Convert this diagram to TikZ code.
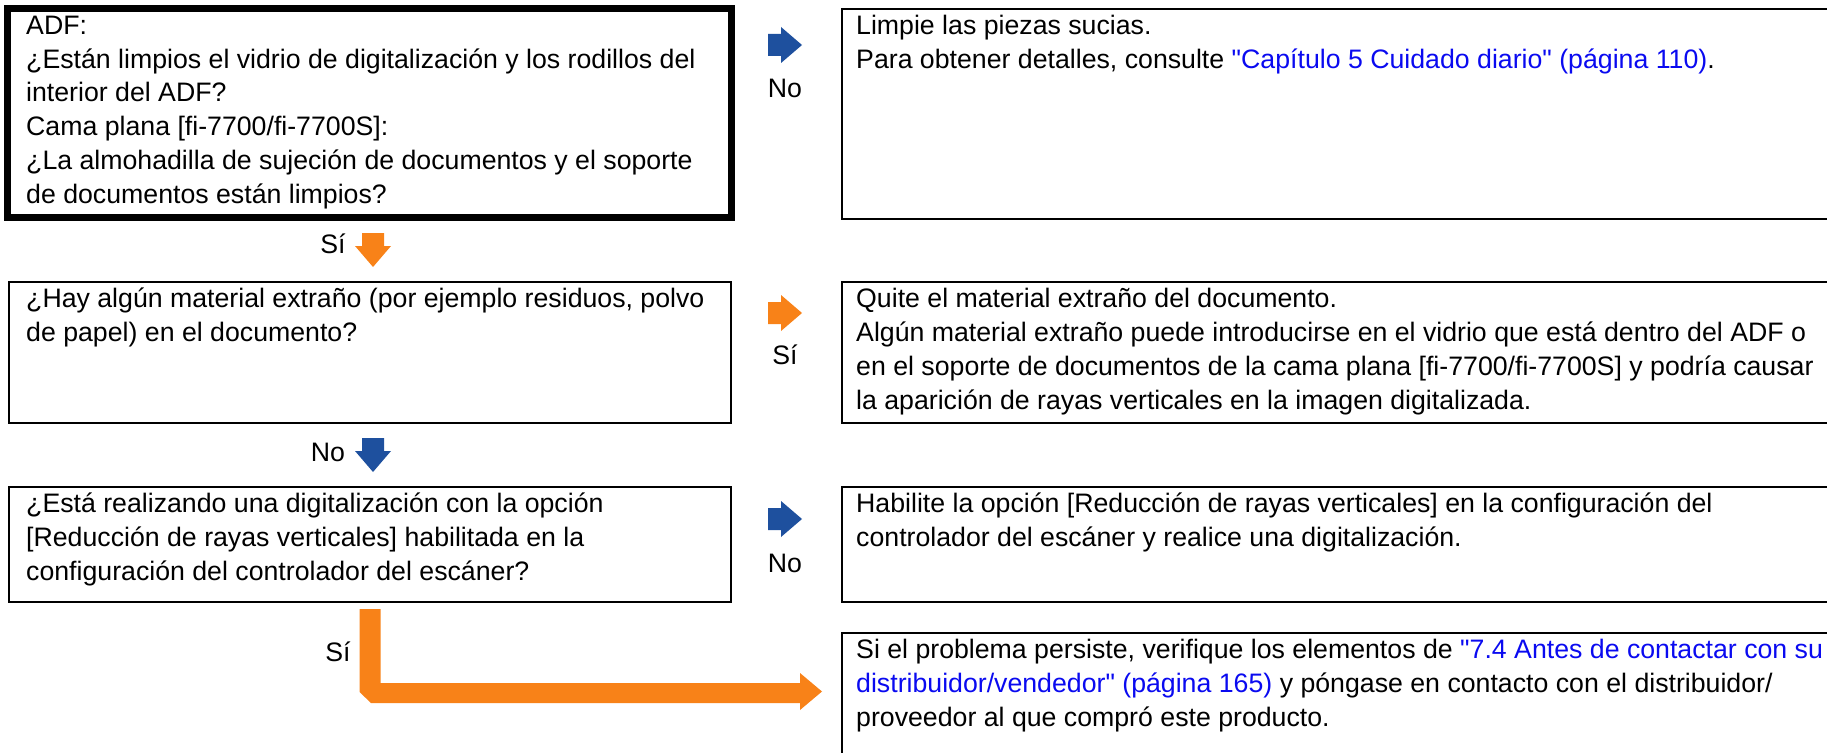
\documentclass[tikz,border=0pt]{standalone}
\usepackage{fontspec}
\setmainfont{Liberation Sans}[Ligatures=TeXOff]
\definecolor{arrblue}{RGB}{30,80,158}
\definecolor{arrorange}{RGB}{248,130,24}
\definecolor{linkblue}{RGB}{10,10,240}
\tikzset{
  qbox/.style={draw, line width=2.4pt, anchor=north west, inner sep=0pt, outer sep=0pt},
  txt/.style={anchor=north west, inner sep=0pt, align=left, font=\fontsize{26.7}{33.8}\selectfont},
  lbl/.style={inner sep=0pt, font=\fontsize{26.7}{33.8}\selectfont},
  rarrow/.pic={\fill (-34,-11) -- (-21,-11) -- (-21,-18) -- (0,0) -- (-21,18) -- (-21,11) -- (-34,11) -- cycle;},
  darrow/.pic={\fill (-11,-34) -- (-11,-21) -- (-18,-21) -- (0,0) -- (18,-21) -- (11,-21) -- (11,-34) -- cycle;}
}
\begin{document}
\begin{tikzpicture}[x=1pt,y=-1pt]
\useasboundingbox (0,0) rectangle (1827,752);
% boxes
\node[qbox, line width=7pt, minimum width=724pt, minimum height=209pt] (q1) at (7.5,8.5) {};
\node[qbox, minimum width=1000pt, minimum height=210pt] (a1) at (842,9) {};
\node[qbox, minimum width=722pt, minimum height=141pt] (q2) at (9,282) {};
\node[qbox, minimum width=1000pt, minimum height=141pt] (a2) at (842,282) {};
\node[qbox, minimum width=722pt, minimum height=115pt] (q3) at (9,487) {};
\node[qbox, minimum width=1000pt, minimum height=115pt] (a3) at (842,487) {};
\node[qbox, minimum width=1000pt, minimum height=200pt] (a4) at (842,633) {};
% texts
\node[txt] (t1) at ([shift={(18.5,2)}]q1.north west) {\strut ADF:\\
¿Están limpios el vidrio de digitalización y los rodillos del\\
interior del ADF?\\
Cama plana [fi-7700/fi-7700S]:\\
¿La almohadilla de sujeción de documentos y el soporte\\
de documentos están limpios?};
\node[txt] (s1) at ([shift={(14,2)}]a1.north west) {\strut Limpie las piezas sucias.\\
Para obtener detalles, consulte \textcolor{linkblue}{"Capítulo 5 Cuidado diario" (página 110)}.};
\node[txt] (t2) at ([shift={(17,2)}]q2.north west) {\strut ¿Hay algún material extraño (por ejemplo residuos, polvo\\
de papel) en el documento?};
\node[txt] (s2) at ([shift={(14,2)}]a2.north west) {\strut Quite el material extraño del documento.\\
Algún material extraño puede introducirse en el vidrio que está dentro del ADF o\\
en el soporte de documentos de la cama plana [fi-7700/fi-7700S] y podría causar\\
la aparición de rayas verticales en la imagen digitalizada.};
\node[txt] (t3) at ([shift={(17,2)}]q3.north west) {\strut ¿Está realizando una digitalización con la opción\\\relax
[Reducción de rayas verticales] habilitada en la\\
configuración del controlador del escáner?};
\node[txt] (s3) at ([shift={(14,2)}]a3.north west) {\strut Habilite la opción [Reducción de rayas verticales] en la configuración del\\
controlador del escáner y realice una digitalización.};
\node[txt] (s4) at ([shift={(14,2)}]a4.north west) {\strut Si el problema persiste, verifique los elementos de \textcolor{linkblue}{"7.4 Antes de contactar con su}\\
\textcolor{linkblue}{distribuidor/vendedor" (página 165)} y póngase en contacto con el distribuidor/\\
proveedor al que compró este producto.};
% arrows
\pic[fill=arrblue] at (802,45) {rarrow};
\pic[fill=arrorange] at (373,267) {darrow};
\pic[fill=arrorange] at (802,313) {rarrow};
\pic[fill=arrblue] at (373,472) {darrow};
\pic[fill=arrblue] at (802,519) {rarrow};
\coordinate (ltip) at (822,691.5);
\fill[arrorange] (359.5,609) -- (380.5,609) -- (380.5,683) -- (800,683) -- (800,673) -- (ltip) -- (800,710) -- (800,703) -- (371,703) -- (359.5,692) -- cycle;
% labels
\node[lbl] (l1) at (785,88) {No};
\node[lbl] (l2) at (333,244) {Sí};
\node[lbl] (l3) at (785,355) {Sí};
\node[lbl] (l4) at (328,452) {No};
\node[lbl] (l5) at (785,563) {No};
\node[lbl] (l6) at (338,652) {Sí};
\end{tikzpicture}
\end{document}
